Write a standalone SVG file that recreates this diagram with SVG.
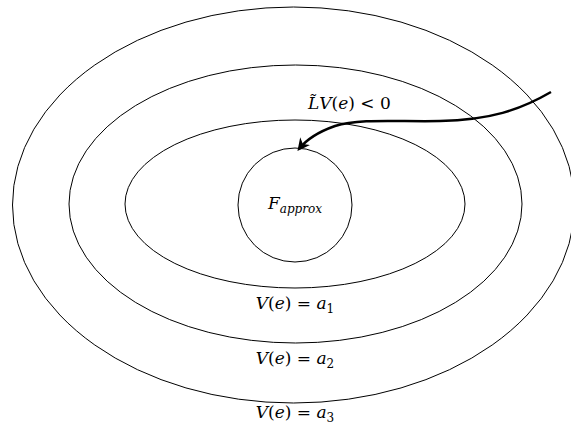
<svg xmlns="http://www.w3.org/2000/svg" width="571" height="427" viewBox="0 0 571 427">
<style>
.c{fill:none;stroke:#000;stroke-width:1}
text{font-family:'DejaVu Serif',serif;font-size:17px;fill:#000}
.i{font-style:italic}
</style>
<defs>
<marker id="ah" viewBox="0 0 10 10" refX="8" refY="5" markerWidth="5" markerHeight="5" orient="auto" markerUnits="strokeWidth">
<path d="M0,0 L10,5 L0,10 L3,5 Z" fill="#000"/>
</marker>
</defs>
<rect width="571" height="427" fill="#fff"/>
<g id="outer"><ellipse class="c" cx="293.5" cy="205" rx="281" ry="198"/><text x="295" y="418" text-anchor="middle"><tspan class="i">V</tspan>(<tspan class="i">e</tspan>) = <tspan class="i">a</tspan><tspan font-size="12" dy="4">3</tspan></text></g>
<g id="middle"><ellipse class="c" cx="295.5" cy="204" rx="226.5" ry="139"/><text x="295" y="364" text-anchor="middle"><tspan class="i">V</tspan>(<tspan class="i">e</tspan>) = <tspan class="i">a</tspan><tspan font-size="12" dy="4">2</tspan></text></g>
<g id="inner"><ellipse class="c" cx="295" cy="204" rx="170" ry="84"/><text x="295" y="309" text-anchor="middle"><tspan class="i">V</tspan>(<tspan class="i">e</tspan>) = <tspan class="i">a</tspan><tspan font-size="12" dy="4">1</tspan></text></g>
<g id="fapprox"><circle class="c" cx="295" cy="205" r="57"/><text x="295" y="209" text-anchor="middle"><tspan class="i">F</tspan><tspan class="i" font-size="12" dy="4">approx</tspan></text></g>
<g id="connectors">
<path d="M551,92 C520,110 490,120 440,121 C400,122 360,118 335,126 C318,132 306,140 299,149" fill="none" stroke="#000" stroke-width="2.5" marker-end="url(#ah)"/>
<text x="308" y="109"><tspan class="i">L̃V</tspan>(<tspan class="i">e</tspan>) &lt; 0</text>
</g>
</svg>
